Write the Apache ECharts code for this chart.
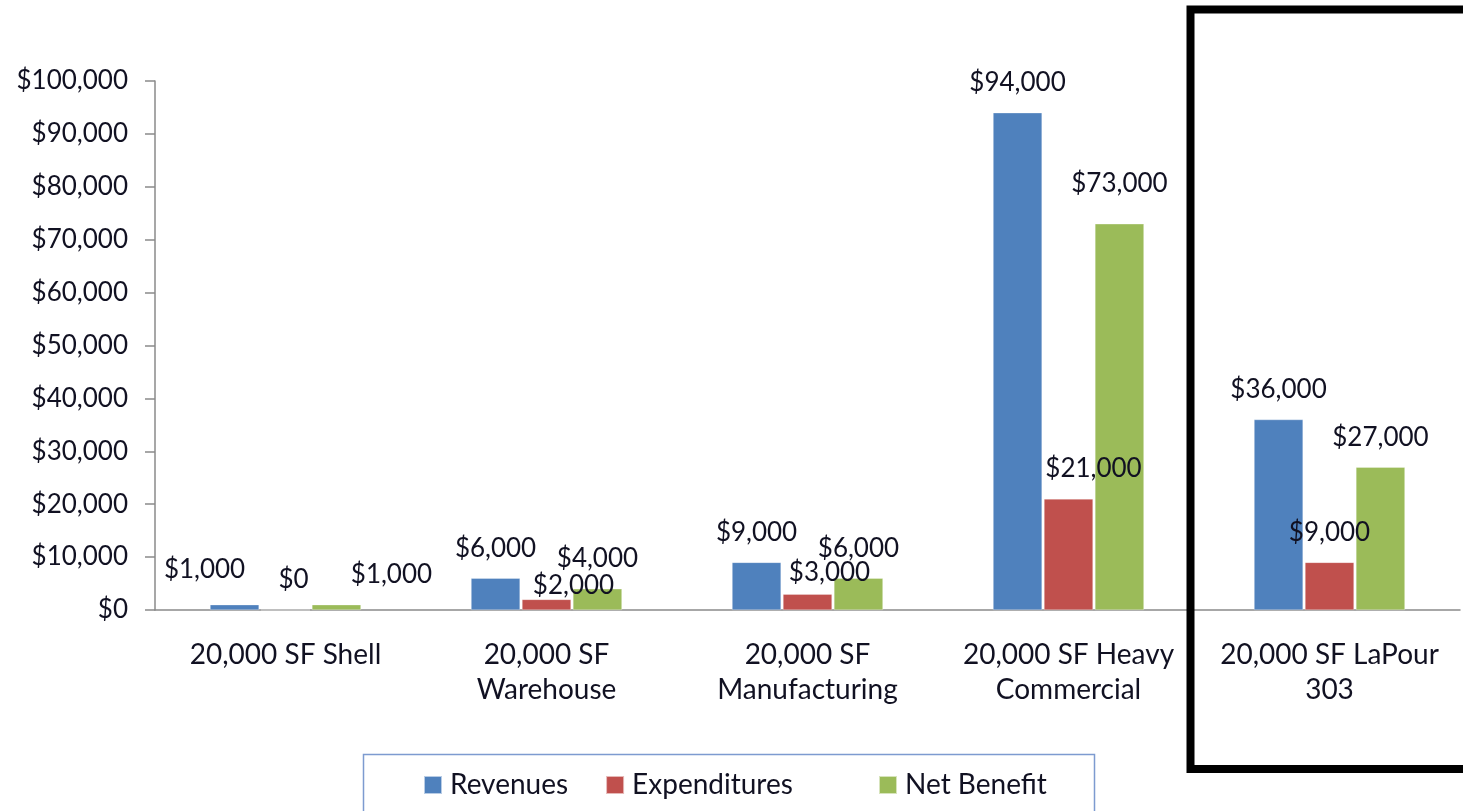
<!DOCTYPE html>
<html>
<head>
<meta charset="utf-8">
<script src="https://cdn.jsdelivr.net/npm/echarts@6/dist/echarts.min.js"></script>
<style>
  html, body { margin: 0; padding: 0; background: #fff; }
  #element { width: 1463px; height: 811px; }
</style>
</head>
<body>
<div id="element"></div>
<script>
// chart data
const categories = [
  '20,000 SF Shell',
  '20,000 SF\nWarehouse',
  '20,000 SF\nManufacturing',
  '20,000 SF Heavy\nCommercial',
  '20,000 SF LaPour\n303'
];
const revenues = [1000, 6000, 9000, 94000, 36000];
const expenditures = [0, 2000, 3000, 21000, 9000];
const netBenefit = [1000, 4000, 6000, 73000, 27000];
const yTicks = { min: 0, max: 100000, step: 10000 };

// hand-moved data labels in the original, [dx, dy] per bar
const revNudge = [[-30, -5], [0, 0], [0, 0], [0, 0], [0, 0]];
const expNudge = [[8, 0], [27, 16], [22, 8], [25, 0], [0, 0]];
const netNudge = [[55, 0], [0, 0], [0, 0], [0, -10], [0, 0]];

const FONT = 'Lato';
const TEXT = '#111122';
const money = v => '$' + Number(v).toLocaleString('en-US');

const withNudge = (vals, nudge) => vals.map((v, i) => ({
  value: v,
  label: { offset: nudge[i] }
}));

const barSeries = (name, color, vals, nudge) => ({
  name: name,
  type: 'bar',
  barWidth: 49,
  barGap: '4%',
  itemStyle: { color: color, borderColor: 'rgba(255,255,255,0.6)', borderWidth: 0.5 },
  label: {
    show: true,
    position: 'top',
    distance: 17,
    fontFamily: FONT,
    fontSize: 26,
    color: TEXT,
    formatter: p => money(p.value)
  },
  data: withNudge(vals, nudge)
});

const legendPart = (left, names) => ({
  left: left,
  top: 771,
  padding: 0,
  itemWidth: 18,
  itemHeight: 18,
  itemGap: 37,
  icon: 'rect',
  textStyle: { fontFamily: FONT, fontSize: 28, color: TEXT, padding: [0, 0, 0, 3] },
  data: names
});

const myEcharts = echarts.init(document.getElementById('element'));
myEcharts.setOption({
  animation: false,
  textStyle: { fontFamily: FONT },
  grid: { left: 155, right: 3, top: 81, bottom: 201, containLabel: false },
  // Excel spreads the legend entries wider, so split it in two
  legend: [
    legendPart(423, ['Revenues', 'Expenditures']),
    legendPart(878, ['Net Benefit'])
  ],
  xAxis: {
    type: 'category',
    data: categories,
    axisLine: { lineStyle: { color: '#8a8a8a', width: 1.5 } },
    axisTick: { length: 10, lineStyle: { color: '#8a8a8a', width: 1.5 } },
    axisLabel: {
      margin: 27,
      fontFamily: FONT,
      fontSize: 28,
      lineHeight: 35,
      color: TEXT,
      interval: 0
    }
  },
  yAxis: {
    type: 'value',
    min: yTicks.min,
    max: yTicks.max,
    interval: yTicks.step,
    splitLine: { show: false },
    axisLine: { show: true, lineStyle: { color: '#8a8a8a', width: 1.5 } },
    axisTick: { show: true, length: 10, lineStyle: { color: '#8a8a8a', width: 1.5 } },
    axisLabel: {
      margin: 27,
      fontFamily: FONT,
      fontSize: 26,
      color: TEXT,
      formatter: money
    }
  },
  series: [
    barSeries('Revenues', '#4f81bd', revenues, revNudge),
    barSeries('Expenditures', '#c0504d', expenditures, expNudge),
    barSeries('Net Benefit', '#9bbb59', netBenefit, netNudge)
  ],
  graphic: [{
    type: 'rect',
    shape: { x: 363.5, y: 754.5, width: 731, height: 100 },
    style: { fill: 'none', stroke: '#7d9bd0', lineWidth: 1.5 },
    z: 90
  }, {
    type: 'rect',
    shape: { x: 1190.5, y: 9.5, width: 400, height: 759.5 },
    style: { fill: 'none', stroke: '#000', lineWidth: 8 },
    z: 100
  }]
});
</script>
</body>
</html>
